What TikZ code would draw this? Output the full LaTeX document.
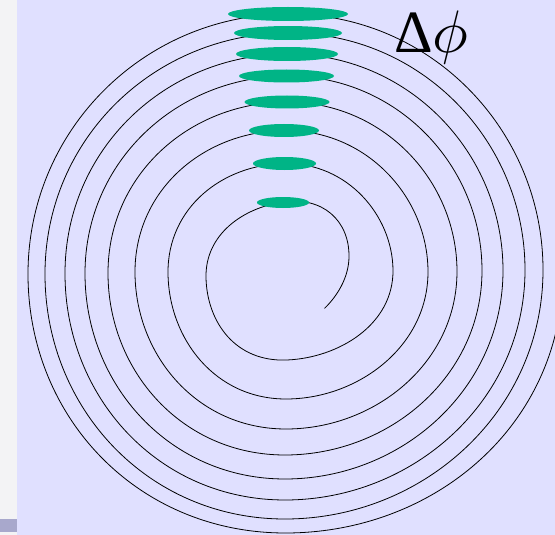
\documentclass[tikz,border=0pt]{standalone}
\usepackage{graphicx}
\usepackage{fontspec}
\newfontfamily\timesfont{Liberation Serif}
\definecolor{slidebg}{RGB}{224,224,255}
\definecolor{stripgray}{RGB}{243,243,245}
\definecolor{stripbar}{RGB}{168,168,204}
\definecolor{phasegreen}{RGB}{0,180,134}

\begin{document}
\begin{tikzpicture}[
    x=1pt, y=-1pt,
    spiral/.style={draw=black, line width=0.8pt, line join=round},
    phase/.style={fill=phasegreen},
    biglabel/.style={anchor=base west, inner sep=0pt},
]
% slide background
\fill[slidebg] (0,0) rectangle (555,535);
\fill[stripgray] (0,0) rectangle (17,535);
\fill[stripbar] (0,519) rectangle (17,532);
\useasboundingbox (0,0) rectangle (555,535);

% the spiral, one point per quarter turn; both ends are cut off by the clip
\begin{scope}
\clip (17,535) -- (17,272) -- (18,272) arc[start angle=180, end angle=360, radius=268]
    -- (555,272) -- (555,535) -- cycle
    (255,272) -- (228,268) -- (222,300) -- (255,345) -- (300,347) -- (334,320) -- (316,298) -- cycle;
\draw[spiral] plot[smooth, tension=1] coordinates {
    (232,283) (281,333)
    (349,257) (283,202) (206,278) (287,360)
    (393,270) (285,163.5) (168,273) (287,399)
    (428,271) (285,130.5) (135,273) (287,429)
    (457,271) (286,102) (108,273) (286,455)
    (482,271) (287,76) (85,273) (286,479)
    (503,271) (287,54) (65,273) (286,500)
    (525,271) (288,33) (45,273) (286,519)
    (543,271) (288,14) (28,273) (286,533)
    (563,272) (288,-20) (-300,-20)};
\end{scope}

% phase spread on each turn
\foreach \cx/\cy/\rx/\ry in {288/14/60/7, 288/33/54/7, 287/54/51/7, 286.5/76/47.5/6.5,
    287/102/42.5/6.5, 284/130.5/35/6.5, 284.5/163.5/31.5/6.5, 283/202.5/26/5.5}
    \fill[phase] (\cx,\cy) ellipse [x radius=\rx, y radius=\ry];

\node[biglabel] (dphi) at (394,53) {{\timesfont\scalebox{6}{Δ}}\scalebox{6}{$\phi$}};
\end{tikzpicture}
\end{document}
